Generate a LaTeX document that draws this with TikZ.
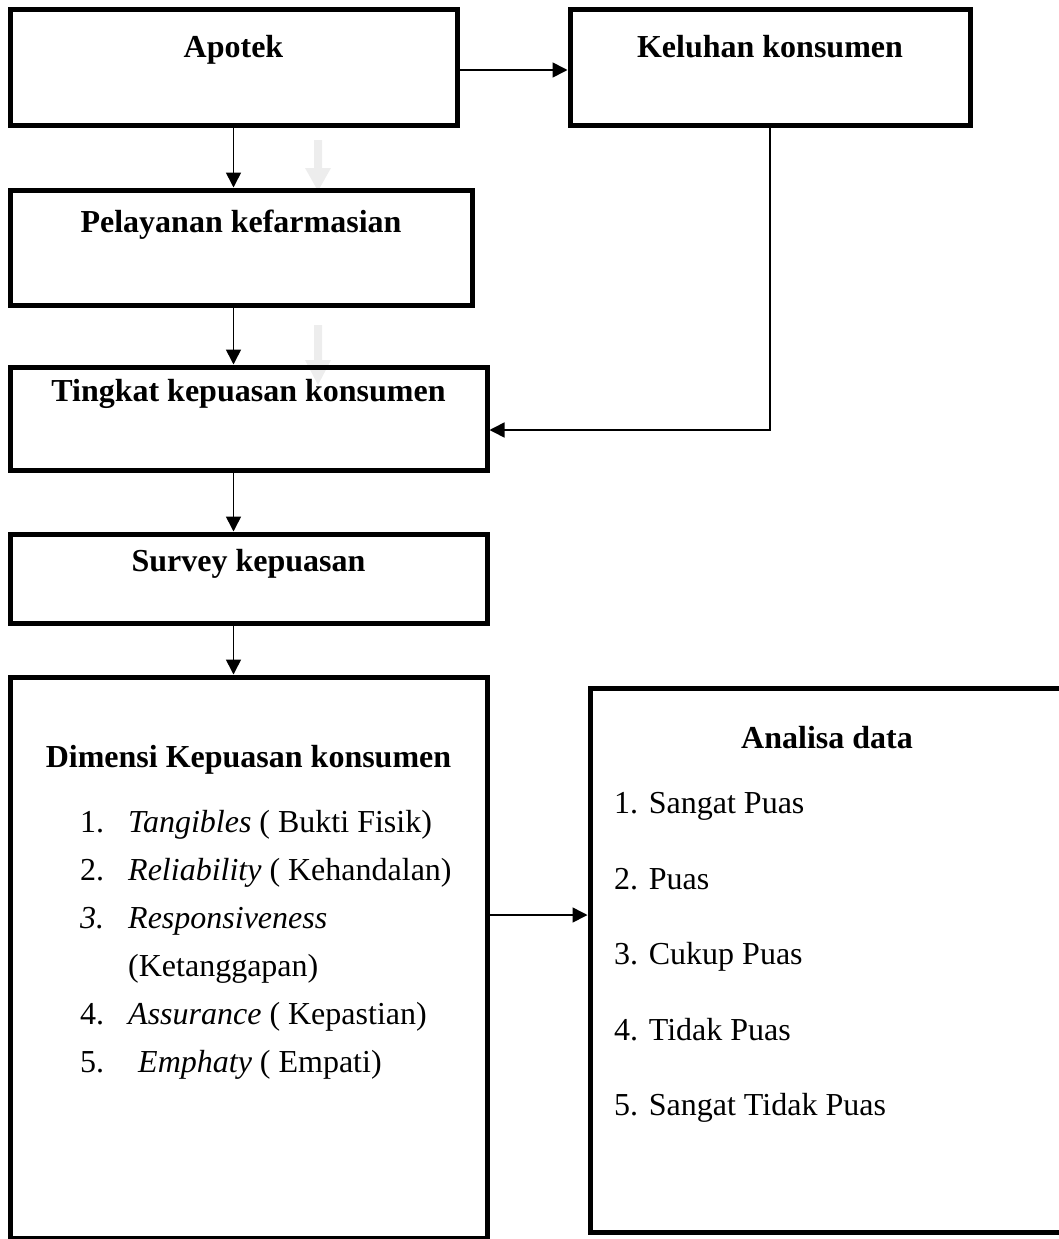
\documentclass[tikz,border=0pt]{standalone}
\usepackage{fontspec}
\setmainfont{Liberation Serif}
\usetikzlibrary{arrows.meta}
\begin{document}
\begin{tikzpicture}[x=1pt,y=-1pt,
  box/.style={draw=black,line width=5pt,rectangle,fill=none,inner sep=0pt},
  ttl/.style={font=\fontsize{32}{38}\selectfont\bfseries,anchor=base,inner sep=0pt},
  itm/.style={font=\fontsize{32}{38}\selectfont,anchor=base west,inner sep=0pt},
  conn/.style={line width=1.6pt,-{Triangle[length=15pt,width=15pt]}},
  faint/.style={fill=black!7,draw=none}]
\useasboundingbox (0,0) rectangle (1059,1239);
\clip (0,0) rectangle (1059,1239);
% faint background arrows
\fill[faint] (314,140) -- (322,140) -- (322,168) -- (331,168) -- (318,191) -- (305,168) -- (314,168) -- cycle;
\fill[faint] (314,325) -- (322,325) -- (322,360) -- (331,360) -- (318,385) -- (305,360) -- (314,360) -- cycle;
% boxes
\node[box,minimum width=447,minimum height=115] (apo) at (233.5,67.5) {};
\node[box,minimum width=400,minimum height=115] (kel) at (770,67.5) {};
\node[box,minimum width=462,minimum height=115] (pel) at (241,247.5) {};
\node[box,minimum width=477,minimum height=103] (ting) at (248.5,418.5) {};
\node[box,minimum width=477,minimum height=89] (sur) at (248.5,578.5) {};
\node[box,minimum width=477,minimum height=561] (dim) at (248.5,957.5) {};
\node[box,minimum width=474,minimum height=544] (ana) at (827,960) {};
% titles
\node[ttl] (apoT) at (233.5,58) {Apotek};
\node[ttl] (kelT) at (770,58) {Keluhan konsumen};
\node[ttl] (pelT) at (241,232) {Pelayanan kefarmasian};
\node[ttl] (tingT) at (248.5,401) {Tingkat kepuasan konsumen};
\node[ttl] (surT) at (248.5,571) {Survey kepuasan};
\node[ttl] (dimT) at (248.5,767) {Dimensi Kepuasan konsumen};
\node[ttl] (anaT) at (827,748) {Analisa data};
% Dimensi list
\node[itm] (d1n) at (80,832) {1.};
\node[itm] (d1) at (128,832) {\textit{Tangibles} ( Bukti Fisik)};
\node[itm] (d2n) at (80,880) {2.};
\node[itm] (d2) at (128,880) {\textit{Reliability} ( Kehandalan)};
\node[itm] (d3n) at (80,928) {\textit{3.}};
\node[itm] (d3) at (128,928) {\textit{Responsiveness}};
\node[itm] (d3b) at (128,976) {(Ketanggapan)};
\node[itm] (d4n) at (80,1024) {4.};
\node[itm] (d4) at (128,1024) {\textit{Assurance} ( Kepastian)};
\node[itm] (d5n) at (80,1072) {5.};
\node[itm] (d5) at (138,1072) {\textit{Emphaty} ( Empati)};
% Analisa list
\node[itm] (a1) at (614,813) {1. Sangat Puas};
\node[itm] (a2) at (614,889) {2. Puas};
\node[itm] (a3) at (614,964) {3. Cukup Puas};
\node[itm] (a4) at (614,1040) {4. Tidak Puas};
\node[itm] (a5) at (614,1115) {5. Sangat Tidak Puas};
% connectors
\coordinate (yA) at (0,70);
\coordinate (yK) at (0,430);
\coordinate (yD) at (0,915);
\draw[conn] (apo.east |- yA) -- (kel.west |- yA);
\draw[conn] (apo.south) -- (pel.north -| apo.south);
\draw[conn] (pel.south -| apo.south) -- (ting.north -| apo.south);
\draw[conn] (kel.south) |- (ting.east |- yK);
\draw[conn] (ting.south -| apo.south) -- (sur.north -| apo.south);
\draw[conn] (sur.south -| apo.south) -- (dim.north -| apo.south);
\draw[conn] (dim.east |- yD) -- (ana.west |- yD);
\end{tikzpicture}
\end{document}
